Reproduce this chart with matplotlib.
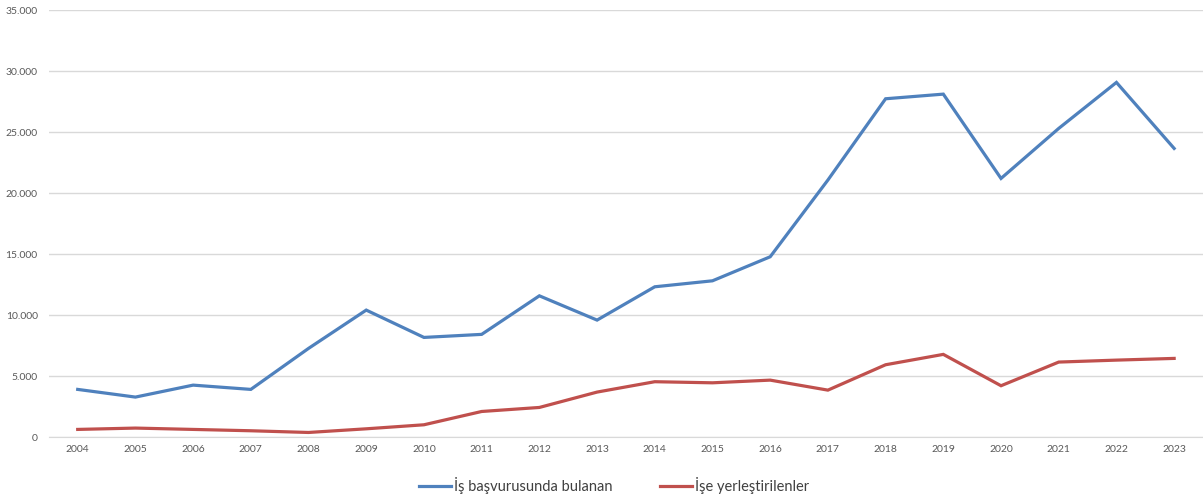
import matplotlib
matplotlib.use("Agg")
import matplotlib.pyplot as plt
from matplotlib.ticker import FuncFormatter, MultipleLocator

years = list(range(2004, 2024))
basvuru = [3910, 3280, 4260, 3910, 7270, 10410, 8170, 8420, 11580, 9590,
           12320, 12810, 14780, 21070, 27730, 28110, 21200, 25300, 29070, 23660]
yerlestirilen = [630, 740, 630, 520, 380, 680, 1010, 2100, 2430, 3690,
                 4540, 4450, 4670, 3850, 5930, 6780, 4210, 6150, 6310, 6450]
labels = ["İş başvurusunda bulanan", "İşe yerleştirilenler"]

plt.rcParams['font.family'] = ['Lato', 'DejaVu Sans']

fig = plt.figure(figsize=(12.03, 5.03), dpi=100)
ax = fig.add_axes([0.0406, 0.131, 0.9594, 0.849])

x = list(range(len(years)))
ax.plot(x, basvuru, color='#4F81BD', lw=2.3, label=labels[0], solid_joinstyle='miter')
ax.plot(x, yerlestirilen, color='#C0504D', lw=2.3, label=labels[1], solid_joinstyle='miter')

ax.set_xlim(-0.5, len(years) - 0.5)
ax.set_ylim(0, 35000)
ax.yaxis.set_major_locator(MultipleLocator(5000))
ax.yaxis.set_major_formatter(FuncFormatter(lambda v, p: f"{int(v):,}".replace(",", ".")))
ax.set_xticks(x)
ax.set_xticklabels([str(y) for y in years])
ax.tick_params(axis='both', length=0, labelsize=7.5, colors='#595959', pad=6)
ax.tick_params(axis='y', pad=8)
ax.grid(axis='y', color='#D9D9D9', lw=1)
ax.set_axisbelow(True)
for s in ['top', 'right', 'left']:
    ax.spines[s].set_visible(False)
ax.spines['bottom'].set_color('#D9D9D9')

fig.legend(loc='center', bbox_to_anchor=(614 / 1203, 1 - 486 / 503), ncol=2,
           frameon=False, fontsize=10.5, handlelength=2.2, handletextpad=0.2,
           columnspacing=3.2, labelcolor='#404040')

fig.savefig("out.png", dpi=100)
